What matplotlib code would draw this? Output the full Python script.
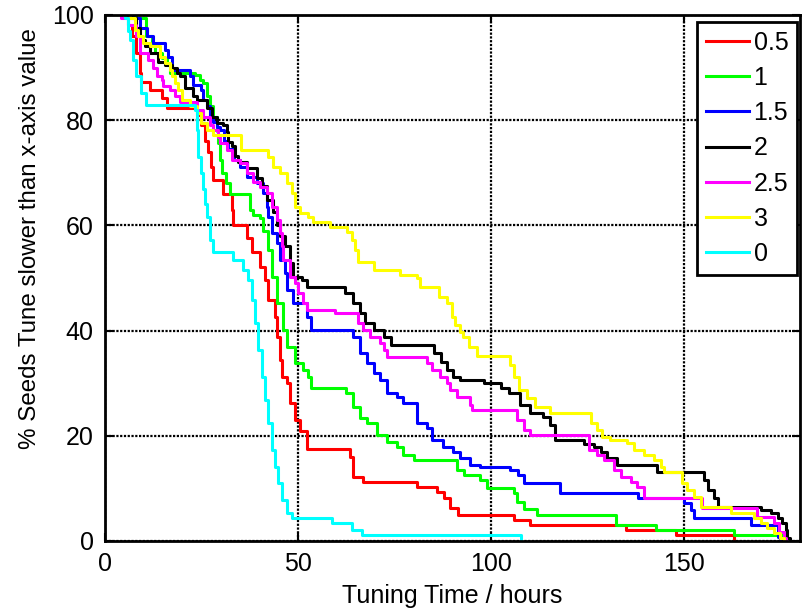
import matplotlib
matplotlib.use('Agg')
import matplotlib.pyplot as plt

plt.rcParams['font.family'] = ['Liberation Sans', 'DejaVu Sans']

# survival-style curves: time (hours) at which the percentage drops to the new value
t_05 = [6, 7, 8, 9, 9.5, 11.7, 14.7, 16, 24, 25, 26, 26.7, 27.5, 28, 30.6, 33, 33.2, 36.8, 38, 40.2,
        41.5, 42.3, 44.1, 44.6, 45.4, 45.9, 47.2, 48, 49.3, 50.6, 52.4, 63.6, 64.4, 67, 80.9, 86, 87.8,
        89.5, 91.6, 106, 110, 135, 148, 163]
y_05 = [98, 96, 92.7, 89, 87.3, 85.7, 84.2, 82.3, 81, 79, 76, 74, 71, 68.6, 66, 63, 60, 57.5, 55, 52.1,
        49.6, 45.8, 42.6, 38.8, 34.4, 31.2, 30, 26.2, 23, 21, 17.5, 16, 12.2, 11.3, 10.3, 9.4, 8.2,
        6.3, 4.9, 4.0, 3.0, 2.1, 1.1, 0]

t_1 = [8.2, 10.8, 12.1, 13, 14.7, 16, 16.9, 23.3, 24.6, 25.5, 26.4, 27.2, 28, 29, 29.4, 29.8, 30.3,
       31.5, 32.4, 37.5, 38.5, 40.2, 41, 42.3, 43.3, 44.6, 46.2, 47.2, 49.3, 51.4, 52.7, 53.5,
       62.5, 64.4, 66, 68, 70.5, 73, 75.7, 77.3, 80, 91.3, 93, 97.3, 99, 106, 106.8, 108.5, 112,
       132.3, 142.7, 163, 176]
y_1 = [99.5, 96, 94.6, 92.7, 91.8, 90.5, 89, 88.5, 87.6, 87, 84.5, 82.6, 80.6, 78, 75.6, 72.4, 70,
       68, 66, 63, 62, 61.4, 59, 55.3, 50.2, 45.2, 40.1, 36.9, 33.8, 32.5, 31.2, 29,
       28.1, 25.5, 23.4, 22.4, 20.2, 18.8, 17.9, 16.3, 15.4, 13.5, 12.5, 11.6, 10.1, 9.1, 7.5, 6, 4.9,
       3.0, 2.1, 1.1, 0]

t_15 = [7.3, 9, 11, 12.5, 15.6, 16.4, 17.3, 22, 22.9, 25, 25.5, 26.4, 27.2, 28, 29, 29.8, 31, 32,
        33.5, 35, 36.8, 39.4, 41, 42, 42.3, 43.2, 44.5, 45.4, 46.7, 47.1, 48.8, 52.3, 53.3,
        64.4, 66.1, 67.9, 69.6, 71.3, 73, 75.7, 77.3, 80.9, 83.4, 84.7, 87.7, 90.3, 92, 94.7, 97.3,
        105, 107, 108.5, 118, 138, 150, 151.8, 152.6, 167.3, 174.3, 175]
y_15 = [99.5, 97.5, 96, 94.6, 93.3, 92, 89.5, 88.3, 86.7, 85.7, 83.8, 82.6, 80.6, 79.7, 78.7, 78.1, 76,
        74.5, 72.5, 71.1, 69.2, 68, 66.2, 63.5, 61.6, 58.5, 56.7, 53.4, 51, 47.7, 45.2, 42.6, 40.1,
        38.8, 35.7, 33.8, 31.9, 30.6, 28.1, 27.4, 26.2, 22.4, 21.5, 19.2, 17.9, 16.9, 15.8, 14.4, 14.1,
        13.5, 12.5, 11.1, 9.1, 8.2, 7.2, 5.9, 4.4, 3.0, 0.8, 0]

t_2 = [6.9, 8, 9.1, 10.5, 11.7, 13.8, 15.6, 17.3, 18.6, 19.5, 20.8, 22.9, 23.8, 26.4, 27.7, 29, 30.6,
       31.6, 31.9, 32.9, 33.7, 34.5, 36.8, 39.4, 40.6, 41.9, 43.6, 44.5, 45.4, 46.7, 48, 48.8, 51,
       52.3, 62.3, 64.4, 66.1, 67.4, 69.6, 72.2, 74, 85.2, 87, 88.6, 90.3, 92.1, 98.1, 102.5, 104.6,
       107.6, 110, 113.6, 115.4, 116.7, 124, 126.6, 128.4, 130.1, 132.7, 143.1, 155.2, 156.1, 157.7,
       158.7, 170, 172.5, 174.3, 175.5, 176.4, 176.8, 177.5]
y_2 = [99.5, 97.5, 95.2, 94, 92.7, 91, 90.5, 89.9, 89, 88.3, 86.1, 84.5, 83.8, 82.3, 80.6, 79.5, 79.1,
       77.8, 75.9, 75, 73.1, 72, 70.9, 69, 67.4, 64.8, 62.6, 60, 57.9, 56, 52.8, 50.2, 49.6,
       48.3, 47.1, 45.2, 43.3, 41.4, 40.1, 38.8, 37.3, 35.7, 34, 32.5, 31.2, 30.6, 30, 29.1, 28.1,
       25.9, 24.3, 23.6, 22, 19.2, 18.5, 17.9, 16.9, 15.8, 14.4, 13.1, 11.6, 9.7, 8.2,
       6.5, 5.9, 5.3, 4.4, 3.4, 2.1, 0.6, 0]

t_25 = [4.3, 6, 8.2, 9.1, 11.2, 12.5, 13.4, 14.7, 15.1, 16.9, 18.2, 19.5, 24, 25.5, 27.2, 28, 29.4,
        29.8, 31.6, 32.9, 35, 36.8, 38.4, 40.2, 41.9, 43.2, 44.5, 45.4, 45.8, 46.2, 48, 49.3, 50.1,
        51.4, 52.3, 59.7, 65.6, 66.9, 68.7, 71.3, 72.2, 73.1, 83.4, 84.7, 86.9, 88.6, 89.5, 91.2,
        94.7, 95.1, 106.8, 108.5, 110.2, 125.3, 127.5, 129.2, 131.8, 133.6, 136.2, 137.9, 139.6,
        154.8, 169, 173.4, 174.6, 175.9, 176.5]
y_25 = [99.5, 98, 95.9, 92.7, 91.4, 89.9, 88.3, 87.6, 86.4, 85.7, 84.5, 83.4, 82, 80.5, 79.1, 78.1, 76.8,
        75.6, 74.3, 72.4, 71.9, 70, 68.3, 67.3, 66.2, 63.5, 61, 58.5, 56, 53.4, 50.2, 49, 47.1,
        45.2, 44, 43.3, 41.4, 40.1, 38.8, 37.6, 36.3, 35, 33.8, 32.5, 31.2, 30, 28.7, 27.4,
        25.9, 24.9, 23, 21.1, 20.2, 17.3, 16.3, 15.4, 13.5, 12.2, 11.2, 10.3, 8.2,
        6.3, 4.6, 3.4, 1.7, 0.6, 0]

t_3 = [6.5, 7.8, 8.6, 9.9, 11.7, 14.3, 15.6, 16.9, 17.3, 18.2, 19, 19.9, 22, 23.8, 25, 26.4, 28,
       35.2, 42.3, 43.6, 45.4, 47.1, 48.4, 49.3, 50.6, 52.7, 54, 58.4, 62.7, 64, 64.9, 65.7, 69.6,
       76.5, 80.9, 81.7, 86.5, 88.6, 90, 90.8, 92.1, 92.9, 94.2, 96.4, 105, 106, 107.2, 109.4, 111.5,
       115.4, 125.8, 127.5, 128.8, 130.9, 135.3, 137, 139.6, 142.2, 144, 144.8, 149.6, 150.8, 152.6,
       154.3, 162.1, 168.1, 170, 171.6, 173.3, 175, 176]
y_3 = [99.5, 97.1, 95.9, 94.6, 94, 92, 90.8, 89.5, 88.3, 87.1, 85.7, 83.8, 82.6, 81.4, 79.5, 78.1, 77.2,
       74.3, 73, 71.1, 70, 68, 66.2, 63.5, 62.4, 61.6, 60.6, 59.7, 58.7, 57.2, 55.3, 53.1, 51.5,
       50.6, 50, 48.3, 46.4, 45.2, 42.6, 41, 39.8, 38.8, 36.9, 35.2, 33.5, 31.2, 28.7, 27.2, 25.5,
       24.3, 22.4, 21.1, 19.8, 19.2, 18.6, 17.3, 16.3, 15.4, 14.1, 13.1, 11, 9.7, 8.4,
       6.5, 5.3, 4.4, 3.4, 2.5, 1.5, 0.6, 0]

t_0 = [5.2, 6, 6.5, 7.3, 8.2, 9.5, 10.8, 23.3, 23.8, 24.2, 25, 25.5, 26, 26.4, 27.2, 28, 33.2, 35.8,
       37.1, 38.1, 38.9, 39.7, 40.7, 41.5, 42.3, 43.3, 44.1, 44.9, 45.8, 47.1, 48.4, 58.8, 64, 66.6,
       107.7]
y_0 = [99.5, 97, 95.2, 91.4, 88.3, 85.2, 82.9, 81.9, 78.1, 73, 70, 67, 64, 61.6, 57.2, 55, 53.4, 51.5,
       49.6, 45.8, 41.4, 36.3, 31.2, 26.8, 22.4, 17.3, 14, 11, 7.8, 5.3, 4.4, 3.4, 2.1, 1.1,
       0]

labels = ['0.5', '1', '1.5', '2', '2.5', '3', '0']
colors = ['#ff0000', '#00ff00', '#0000ff', '#000000', '#ff00ff', '#ffff00', '#00ffff']
series = [(t_05, y_05), (t_1, y_1), (t_15, y_15), (t_2, y_2), (t_25, y_25), (t_3, y_3), (t_0, y_0)]

fig = plt.figure(figsize=(8.06, 6.11), dpi=100)
ax = fig.add_axes([0.130, 0.1146, 0.8623, 0.861])

for (t, y), lab, c in zip(series, labels, colors):
    # every curve starts at 100% just before its first drop
    ax.step([t[0]] + t, [100] + y, where='post', color=c, lw=2.2, label=lab)

ax.set_xlim(0, 180)
ax.set_ylim(0, 100)
ax.set_xticks([0, 50, 100, 150])
ax.set_yticks([0, 20, 40, 60, 80, 100])
ax.grid(True, color='black', linestyle=(0, (1, 0.7)), lw=1.6)
ax.tick_params(direction='in', top=True, right=True, length=6, width=1.5,
               labelsize=18, pad=8)
for s in ax.spines.values():
    s.set_linewidth(2)

ax.set_xlabel('Tuning Time / hours', fontsize=18, labelpad=6)
ax.set_ylabel('% Seeds Tune slower than x-axis value', fontsize=17.4)
ax.yaxis.set_label_coords(-0.092, 0.574)

leg = ax.legend(loc='upper right', bbox_to_anchor=(0.996, 0.9867), borderaxespad=0,
                fontsize=18, handlelength=1.7, handletextpad=0.2, labelspacing=0.45,
                borderpad=0.35, fancybox=False, framealpha=1)
leg.get_frame().set_edgecolor('black')
leg.get_frame().set_linewidth(2)
for h in leg.get_lines():
    h.set_linewidth(2.2)

fig.savefig('out.png', dpi=100)
